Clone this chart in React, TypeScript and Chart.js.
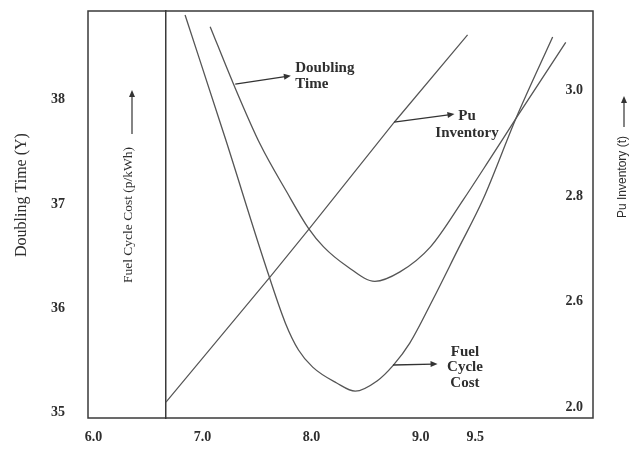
import React, { useEffect, useRef } from "react";
import { Chart, registerables } from "chart.js";

Chart.register(...registerables);

// ---- axis ticks ----
const xTickValues = [6.0, 7.0, 8.0, 9.0, 9.5];
const leftTickValues = [35, 36, 37, 38];
const rightTickValues = [2.4, 2.6, 2.8, 3.0];
const rightTickLabels = ["2.0", "2.6", "2.8", "3.0"];

// ---- series ----
// Doubling time (years), left axis
const doublingX = [7.07, 7.28, 7.53, 7.77, 7.97, 8.11, 8.33, 8.58, 8.81, 9.09, 9.39, 9.64, 9.88, 10.33];
const doublingY = [38.7, 38.16, 37.57, 37.12, 36.77, 36.59, 36.4, 36.26, 36.35, 36.59, 37.04, 37.44, 37.83, 38.55];

// Fuel cycle cost (relative height on its un-numbered p/kWh axis, 0-100)
const costX = [6.84, 7.21, 7.57, 7.76, 7.88, 8.01, 8.23, 8.4, 8.6, 8.75, 8.9, 9.11, 9.34, 9.57, 9.88, 10.21];
const costY = [99.0, 68.6, 38.1, 23.3, 16.7, 12.5, 8.6, 6.6, 9.1, 13.0, 18.4, 29.0, 41.3, 53.6, 74.0, 93.6];

// Pu inventory (t), right axis
const puX = [6.665, 7.62, 7.97, 8.76, 9.43];
const puY = [2.41, 2.647, 2.736, 2.94, 3.105];

// position of the fuel-cycle-cost axis on the x scale
const costAxisAt = 6.665;

const SERIF = "'Liberation Serif', 'Times New Roman', serif";
const SANS = "'Liberation Sans', Arial, sans-serif";
const TEXT = "#2e2e2e";
const LINE = "#555555";

type Note = {
  lines: string[];
  from: [number, number];
  to: [number, number];
  textX: number;
  textY: number[];
  align: CanvasTextAlign;
};

// annotation labels, in data units of x / left y scale
const notes: Note[] = [
  { lines: ["Doubling", "Time"], from: [7.3, 38.15], to: [7.81, 38.23], textX: 7.85, textY: [38.3, 38.15], align: "left" },
  { lines: ["Pu", "Inventory"], from: [8.756, 37.786], to: [9.31, 37.863], textX: 9.425, textY: [37.844, 37.681], align: "center" },
  { lines: ["Fuel", "Cycle", "Cost"], from: [8.746, 35.458], to: [9.155, 35.468], textX: 9.406, textY: [35.582, 35.439, 35.285], align: "center" },
];

function drawArrow(ctx: CanvasRenderingContext2D, x1: number, y1: number, x2: number, y2: number) {
  const a = Math.atan2(y2 - y1, x2 - x1);
  const len = 7;
  const hw = 3;
  ctx.beginPath();
  ctx.moveTo(x1, y1);
  ctx.lineTo(x2 - Math.cos(a) * len * 0.6, y2 - Math.sin(a) * len * 0.6);
  ctx.stroke();
  ctx.beginPath();
  ctx.moveTo(x2, y2);
  ctx.lineTo(x2 - Math.cos(a) * len - Math.sin(a) * hw, y2 - Math.sin(a) * len + Math.cos(a) * hw);
  ctx.lineTo(x2 - Math.cos(a) * len + Math.sin(a) * hw, y2 - Math.sin(a) * len - Math.cos(a) * hw);
  ctx.closePath();
  ctx.fill();
}

const zeroPad = (s: any) => {
  s.paddingTop = 0;
  s.paddingBottom = 0;
  s.paddingLeft = 0;
  s.paddingRight = 0;
};

const decorPlugin = {
  id: "decor",
  afterDraw(chart: any) {
    const { ctx, chartArea, scales } = chart;
    const xs = scales.x;
    const yl = scales.y;
    const yr = scales.y2;
    ctx.save();
    // frame
    ctx.strokeStyle = "#3a3a3a";
    ctx.lineWidth = 1.5;
    ctx.strokeRect(chartArea.left, chartArea.top, chartArea.right - chartArea.left, chartArea.bottom - chartArea.top);

    // right tick labels (printed inside the frame)
    ctx.fillStyle = TEXT;
    ctx.font = `bold 14px ${SERIF}`;
    ctx.textAlign = "right";
    ctx.textBaseline = "middle";
    rightTickValues.forEach((v, i) => {
      ctx.fillText(rightTickLabels[i], chartArea.right - 10, yr.getPixelForValue(v));
    });

    // axis titles
    const vText = (txt: string, x: number, y: number, font: string) => {
      ctx.save();
      ctx.translate(x, y);
      ctx.rotate(-Math.PI / 2);
      ctx.font = font;
      ctx.textAlign = "center";
      ctx.textBaseline = "middle";
      ctx.fillText(txt, 0, 0);
      ctx.restore();
    };
    vText("Doubling Time (Y)", 22, 195, `16px ${SERIF}`);
    vText("Fuel Cycle Cost (p/kWh)", 128, 215, `13.5px ${SERIF}`);
    vText("Pu Inventory (t)", 623, 177, `12px ${SANS}`);

    ctx.strokeStyle = "#333";
    ctx.fillStyle = "#333";
    ctx.lineWidth = 1.2;
    drawArrow(ctx, 132, 134, 132, 90);
    drawArrow(ctx, 624, 127, 624, 96);

    // annotations
    notes.forEach((n) => {
      ctx.strokeStyle = "#333";
      ctx.fillStyle = "#333";
      ctx.lineWidth = 1.3;
      drawArrow(
        ctx,
        xs.getPixelForValue(n.from[0]),
        yl.getPixelForValue(n.from[1]),
        xs.getPixelForValue(n.to[0]),
        yl.getPixelForValue(n.to[1])
      );
      ctx.fillStyle = TEXT;
      ctx.font = `bold 15px ${SERIF}`;
      ctx.textAlign = n.align;
      ctx.textBaseline = "middle";
      n.lines.forEach((t, i) => {
        ctx.fillText(t, xs.getPixelForValue(n.textX), yl.getPixelForValue(n.textY[i]));
      });
    });
    ctx.restore();
  },
};

export default function App() {
  const ref = useRef<HTMLCanvasElement>(null);

  useEffect(() => {
    const toPts = (xs: number[], ys: number[]) => xs.map((x, i) => ({ x, y: ys[i] }));
    const chart = new Chart(ref.current as HTMLCanvasElement, {
      type: "line",
      data: {
        datasets: [
          {
            label: "Doubling Time",
            data: toPts(doublingX, doublingY),
            yAxisID: "y",
            borderColor: LINE,
            borderWidth: 1.3,
            pointRadius: 0,
            cubicInterpolationMode: "monotone",
            fill: false,
          },
          {
            label: "Fuel Cycle Cost",
            data: toPts(costX, costY),
            yAxisID: "yCost",
            borderColor: LINE,
            borderWidth: 1.3,
            pointRadius: 0,
            cubicInterpolationMode: "monotone",
            fill: false,
          },
          {
            label: "Pu Inventory",
            data: toPts(puX, puY),
            yAxisID: "y2",
            borderColor: LINE,
            borderWidth: 1.2,
            pointRadius: 0,
            tension: 0,
            fill: false,
          },
        ],
      },
      options: {
        animation: false,
        responsive: false,
        maintainAspectRatio: false,
        layout: { padding: { top: 11, left: 0, right: 0, bottom: 0 } },
        plugins: { legend: { display: false }, tooltip: { enabled: false } },
        scales: {
          x: {
            type: "linear",
            position: "bottom",
            min: 5.95,
            max: 10.58,
            grid: { display: false, drawTicks: false },
            border: { display: false },
            afterBuildTicks: (s: any) => {
              s.ticks = xTickValues.map((value) => ({ value }));
            },
            afterFit: (s: any) => {
              s.height = 44;
              zeroPad(s);
            },
            ticks: {
              padding: 11,
              color: TEXT,
              font: { family: SERIF, size: 14, weight: "bold" },
              maxRotation: 0,
              autoSkip: false,
              callback: (v: any) => Number(v).toFixed(1),
            },
          },
          y: {
            type: "linear",
            position: "left",
            min: 34.95,
            max: 38.85,
            grid: { display: false, drawTicks: false },
            border: { display: false },
            afterBuildTicks: (s: any) => {
              s.ticks = leftTickValues.map((value) => ({ value }));
            },
            afterFit: (s: any) => {
              s.width = 88;
              zeroPad(s);
            },
            ticks: {
              padding: 23,
              color: TEXT,
              font: { family: SERIF, size: 14, weight: "bold" },
              callback: (v: any) => String(v),
            },
          },
          y2: {
            type: "linear",
            position: "right",
            min: 2.38,
            max: 3.15,
            grid: { display: false, drawTicks: false },
            border: { display: false },
            afterBuildTicks: (s: any) => {
              s.ticks = rightTickValues.map((value) => ({ value }));
            },
            afterFit: (s: any) => {
              s.width = 39;
              zeroPad(s);
            },
            ticks: { display: false },
          },
          yCost: {
            type: "linear",
            axis: "y",
            position: { x: costAxisAt },
            min: 0,
            max: 100,
            grid: { display: false, drawTicks: false },
            border: { display: true, color: "#3a3a3a", width: 1.5 },
            afterFit: (s: any) => {
              zeroPad(s);
            },
            ticks: { display: false },
          },
        } as any,
      },
      plugins: [decorPlugin],
    } as any);
    return () => chart.destroy();
  }, []);

  return (
    <div style={{ position: "fixed", left: 0, top: 0, width: 632, height: 462, background: "#fff" }}>
      <canvas ref={ref} width={632} height={462} style={{ display: "block", width: 632, height: 462 }} />
    </div>
  );
}
